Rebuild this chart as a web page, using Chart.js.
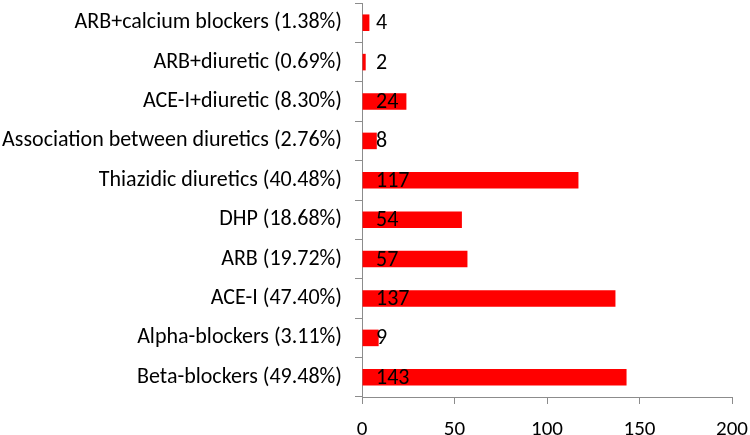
<!DOCTYPE html>
<html>
<head>
<meta charset="utf-8">
<script src="https://cdn.jsdelivr.net/npm/chart.js@4"></script>
<style>
  html, body { margin: 0; padding: 0; background: #fff; }
  #wrap { width: 750px; height: 435px; }
</style>
</head>
<body>
<div id="wrap"><canvas id="chart" width="750" height="435"></canvas></div>
<script>
const categories = [
  'ARB+calcium blockers (1.38%)',
  'ARB+diuretic (0.69%)',
  'ACE-I+diuretic (8.30%)',
  'Association between diuretics (2.76%)',
  'Thiazidic diuretics (40.48%)',
  'DHP (18.68%)',
  'ARB (19.72%)',
  'ACE-I (47.40%)',
  'Alpha-blockers (3.11%)',
  'Beta-blockers (49.48%)',
];
const counts = [4, 2, 24, 8, 117, 54, 57, 137, 9, 143];
const xTicks = [0, 50, 100, 150, 200];

const FONT = 'Carlito, Lato, "Open Sans", sans-serif';
const AXIS_COLOR = '#8c8c8c';

// number written near the base of each bar
const valueLabels = {
  id: 'valueLabels',
  afterDatasetsDraw(chart) {
    const ctx = chart.ctx;
    const meta = chart.getDatasetMeta(0);
    const x0 = chart.scales.x.getPixelForValue(0);
    ctx.save();
    ctx.font = '22px ' + FONT;
    ctx.fillStyle = '#000';
    ctx.textAlign = 'left';
    ctx.textBaseline = 'middle';
    meta.data.forEach((bar, i) => {
      ctx.fillText(String(counts[i]), x0 + 14, bar.y + 1);
    });
    ctx.restore();
  },
};

const ctx = document.getElementById('chart').getContext('2d');
new Chart(ctx, {
  type: 'bar',
  data: {
    labels: categories,
    datasets: [
      {
        data: counts,
        backgroundColor: '#ff0000',
        borderWidth: 0,
        barPercentage: 0.42,
        categoryPercentage: 1,
      },
    ],
  },
  options: {
    indexAxis: 'y',
    responsive: false,
    animation: false,
    layout: { padding: { top: 3, right: 18, left: 0, bottom: 0 } },
    plugins: {
      legend: { display: false },
      tooltip: { enabled: false },
    },
    scales: {
      x: {
        min: 0,
        max: 200,
        afterBuildTicks: (scale) => {
          scale.ticks = xTicks.map((v) => ({ value: v }));
        },
        afterFit: (scale) => {
          scale.height = 38;
          scale.paddingLeft = 0;
          scale.paddingRight = 0;
        },
        grid: {
          drawOnChartArea: false,
          drawTicks: true,
          tickLength: 7,
          color: AXIS_COLOR,
        },
        border: { color: AXIS_COLOR, width: 1 },
        ticks: {
          padding: 13,
          color: '#000',
          font: { family: FONT, size: 21 },
        },
      },
      y: {
        afterFit: (scale) => {
          scale.width = 362;
          scale.paddingTop = 0;
          scale.paddingBottom = 0;
        },
        grid: {
          offset: true,
          drawOnChartArea: false,
          drawTicks: true,
          tickLength: 7,
          color: AXIS_COLOR,
        },
        border: { color: AXIS_COLOR, width: 1 },
        ticks: {
          padding: 13,
          color: '#000',
          autoSkip: false,
          font: { family: FONT, size: 22 },
        },
      },
    },
  },
  plugins: [valueLabels],
});
</script>
</body>
</html>
